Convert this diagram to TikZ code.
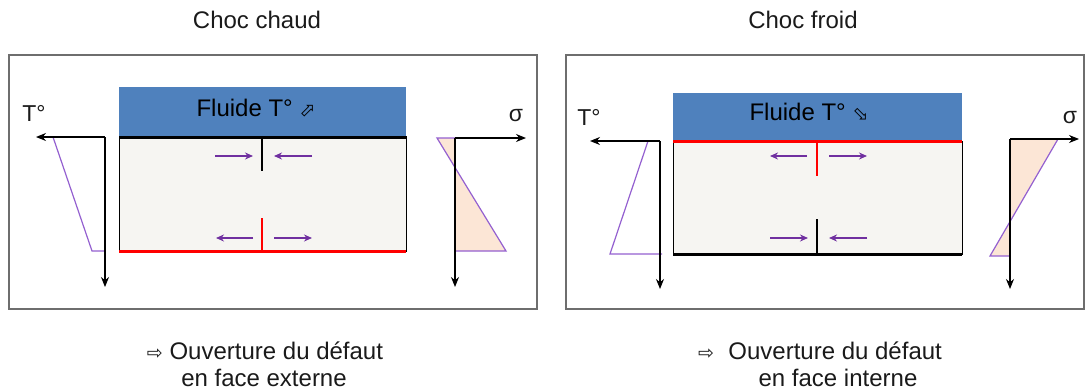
\documentclass[tikz,border=0pt]{standalone}
\usepackage{fontspec}
\setmainfont{Liberation Sans}
\newfontfamily\symfont{DejaVu Sans}
\usetikzlibrary{arrows.meta}
\definecolor{frameg}{HTML}{6E6E6E}
\definecolor{fluidblue}{HTML}{4F81BD}
\definecolor{platefill}{HTML}{F6F5F2}
\definecolor{arrpurple}{HTML}{7030A0}
\definecolor{linepurple}{HTML}{9460D0}
\definecolor{peach}{HTML}{FCE6D6}
\definecolor{txt}{HTML}{1A1A1A}
\tikzset{
  frame/.style={draw=frameg,line width=2pt},
  fluid/.style={fill=fluidblue},
  plate/.style={fill=platefill,draw=black,line width=1pt},
  hotline/.style={draw=red,line width=3pt},
  coldline/.style={draw=black,line width=3pt},
  crackblack/.style={draw=black,line width=2.5pt},
  crackred/.style={draw=red,line width=2.5pt},
  force/.style={draw=arrpurple,line width=1.6pt,-{Stealth[length=8pt,width=7pt]}},
  axis/.style={draw=black,line width=1.2pt,-{Stealth[length=10pt,width=8pt]}},
  profile/.style={draw=linepurple,line width=1.2pt},
  lbl/.style={text=txt,font=\fontsize{24}{28}\selectfont,inner sep=0pt},
  axlbl/.style={text=txt,font=\fontsize{23}{27}\selectfont,inner sep=0pt},
  sym/.style={}
}
\newcommand{\dirarrow}[1]{{\symfont\fontsize{19}{20}\selectfont #1}}
\begin{document}
\begin{tikzpicture}[x=1pt,y=-1pt]
\useasboundingbox (0,0) rectangle (1086,391);
% ---------- left panel : Choc chaud ----------
\node[lbl] (t1) at (257,20) {Choc chaud};
\draw[frame] (9,55) rectangle (537,309);
\fill[fluid] (119,87) rectangle (406,136);
\draw[plate] (119,136) rectangle (406,251);
\node[lbl,text=black] (f1) at (256,108) {Fluide T° \dirarrow{⬀}};
\coordinate (a1) at (119,137); \coordinate (b1) at (406,137);
\draw[coldline] (a1) -- (b1);
\coordinate (c1) at (119,251); \coordinate (d1) at (406,251);
\draw[hotline] (c1) -- (d1);
\coordinate (k1a) at (262,137); \coordinate (k1b) at (262,171);
\draw[crackblack] (k1a) -- (k1b);
\coordinate (k2a) at (262,251); \coordinate (k2b) at (262,218);
\draw[crackred] (k2a) -- (k2b);
\coordinate (p1) at (215,156); \coordinate (p2) at (253,156);
\coordinate (p3) at (312,156); \coordinate (p4) at (274,156);
\draw[force] (p1) -- (p2);
\draw[force] (p3) -- (p4);
\coordinate (q1) at (253,238); \coordinate (q2) at (216,238);
\coordinate (q3) at (274,238); \coordinate (q4) at (312,238);
\draw[force] (q1) -- (q2);
\draw[force] (q3) -- (q4);
% temperature axis
\coordinate (o1) at (105,137);
\coordinate (x1) at (36,137);
\coordinate (y1) at (105,287);
\draw[profile] (53,137) -- (92,251) -- (105,251);
\draw[axis] (o1) -- (x1);
\draw[axis] (o1) -- (y1);
\node[axlbl] (T1) at (34,113) {T°};
% stress axis
\coordinate (o2) at (455,138);
\coordinate (x2) at (526,138);
\coordinate (y2) at (455,287);
\fill[peach] (437,138) -- (455,138) -- (455,251) -- (506,251) -- cycle;
\draw[profile] (455,138) -- (437,138) -- (506,251) -- (455,251);
\draw[axis] (o2) -- (x2);
\draw[axis] (o2) -- (y2);
\node[axlbl] (S1) at (516,116) {σ};
% caption
\node[lbl] (c1a) at (265,351) {\dirarrow{⇨} Ouverture du défaut};
\node[lbl] (c1b) at (264,378) {en face externe};
% ---------- right panel : Choc froid ----------
\node[lbl] (t2) at (803,20) {Choc froid};
\draw[frame] (566,55) rectangle (1084,309);
\fill[fluid] (673,93) rectangle (962,141);
\draw[plate] (673,141) rectangle (962,254);
\node[lbl,text=black] (f2) at (809,112) {Fluide T° \dirarrow{⬂}};
\coordinate (a2) at (673,141); \coordinate (b2) at (962,141);
\draw[hotline] (a2) -- (b2);
\coordinate (c2) at (673,254); \coordinate (d2) at (962,254);
\draw[coldline] (c2) -- (d2);
\coordinate (k3a) at (817,141); \coordinate (k3b) at (817,176);
\draw[crackred] (k3a) -- (k3b);
\coordinate (k4a) at (817,254); \coordinate (k4b) at (817,219);
\draw[crackblack] (k4a) -- (k4b);
\coordinate (r1) at (807,156); \coordinate (r2) at (770,156);
\coordinate (r3) at (829,156); \coordinate (r4) at (867,156);
\draw[force] (r1) -- (r2);
\draw[force] (r3) -- (r4);
\coordinate (s1) at (770,238); \coordinate (s2) at (808,238);
\coordinate (s3) at (867,238); \coordinate (s4) at (829,238);
\draw[force] (s1) -- (s2);
\draw[force] (s3) -- (s4);
% temperature axis
\coordinate (o3) at (660,141);
\coordinate (x3) at (590,141);
\coordinate (y3) at (660,289);
\draw[profile] (648,141) -- (610,254) -- (662,254);
\draw[axis] (o3) -- (x3);
\draw[axis] (o3) -- (y3);
\node[axlbl] (T2) at (589,117) {T°};
% stress axis
\coordinate (o4) at (1010,139);
\coordinate (x4) at (1079,139);
\coordinate (y4) at (1010,289);
\fill[peach] (1010,139) -- (1058,139) -- (990,256) -- (1010,256) -- cycle;
\draw[profile] (1010,139) -- (1058,139) -- (990,256) -- (1010,256);
\draw[axis] (o4) -- (x4);
\draw[axis] (o4) -- (y4);
\node[axlbl] (S2) at (1070,118) {σ};
% caption
\node[lbl] (c2a) at (820,351) {\dirarrow{⇨}\hspace{0.6em}Ouverture du défaut};
\node[lbl] (c2b) at (838,378) {en face interne};
\end{tikzpicture}
\end{document}
